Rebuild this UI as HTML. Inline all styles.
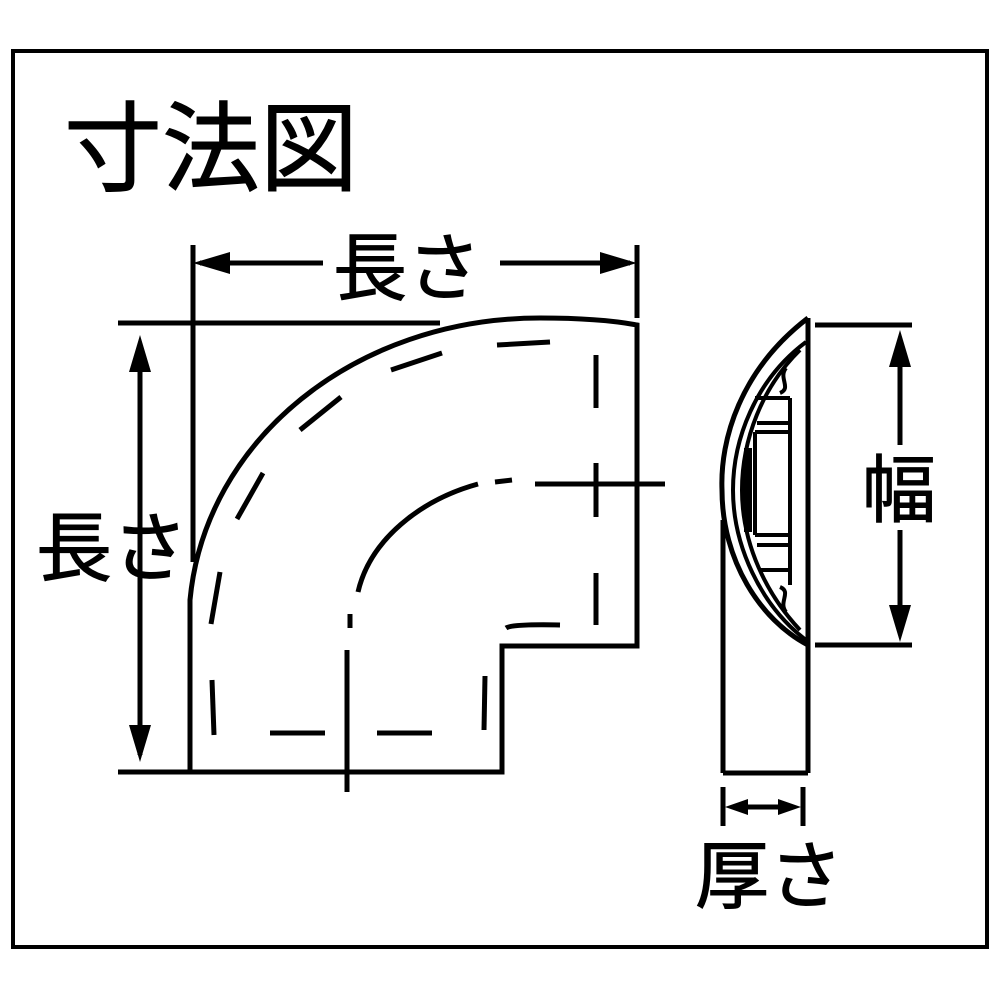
<!DOCTYPE html>
<html><head><meta charset="utf-8"><style>
html,body{margin:0;padding:0;background:#fff}
svg{display:block}
text{font-family:"Liberation Sans","Noto Sans CJK JP",sans-serif;fill:#000}
</style></head><body>
<svg width="1000" height="1000" viewBox="0 0 1000 1000" xmlns="http://www.w3.org/2000/svg">
<rect x="13" y="51" width="974" height="896" fill="none" stroke="#000" stroke-width="4"/>
<text x="64" y="183" font-size="98" stroke="#000" stroke-width="1">寸法図</text>

<g stroke="#000" stroke-width="5" fill="none">
<line x1="193" y1="245" x2="193" y2="562"/>
<line x1="637" y1="245" x2="637" y2="318"/>
<line x1="118" y1="323" x2="440" y2="323"/>
<line x1="118" y1="772" x2="190" y2="772"/>
<line x1="200" y1="263" x2="323" y2="263"/>
<line x1="500" y1="263" x2="630" y2="263"/>
<line x1="140" y1="345" x2="140" y2="755"/>
<path d="M190,600 C205,440 355,318 540,318 Q600,318 637,325 L637,646 L502,646 L502,772 L190,772 Z"/>
<path d="M212,680 L214,735" />
<line x1="270" y1="733" x2="325" y2="733"/>
<line x1="377" y1="733" x2="432" y2="733"/>
<line x1="485" y1="676" x2="484" y2="730"/>
<path d="M506,628 Q512,624 560,625"/>
<line x1="596" y1="355" x2="596" y2="408"/>
<line x1="596" y1="573" x2="596" y2="625"/>
<line x1="596" y1="463" x2="596" y2="517"/>
<line x1="497" y1="345" x2="550" y2="342"/>
<line x1="391" y1="370" x2="442" y2="353"/>
<line x1="300" y1="430" x2="341" y2="397"/>
<line x1="237" y1="519" x2="263" y2="473"/>
<line x1="211" y1="624" x2="220" y2="572"/>
<line x1="535" y1="484" x2="665" y2="484"/>
<path d="M358,592 C370,540 420,500 478,484"/>
<line x1="495" y1="482" x2="512" y2="480"/>
<line x1="350" y1="614" x2="350" y2="628"/>
<line x1="347" y1="650" x2="347" y2="792"/>
<!-- side view -->
<line x1="808" y1="318" x2="808" y2="773"/>
<line x1="723" y1="520" x2="723" y2="773"/>
<line x1="723" y1="773" x2="808" y2="773"/>
<path d="M808,318 C740,370 720,440 722,490 C722,560 760,620 808,645"/>
<path d="M806,342 C755,380 733,440 733,490 C733,545 760,605 806,640" stroke-width="4"/>
<path d="M800,350 C762,387 742,440 742,490 C742,545 767,595 800,630" stroke-width="4"/>
<path d="M786,368 C778,378 792,388 780,393 M786,612 C778,602 792,592 780,587" stroke-width="4"/>
<path d="M790,398 L755,398 M790,398 L790,585 M757,423 L790,423 M755,432 L790,432 M755,432 L755,535 M755,535 L790,535 M757,545 L790,545 M760,570 L790,570" stroke-width="4"/>
<path d="M748,448 L748,532" stroke-width="8"/>
<line x1="815" y1="325" x2="912" y2="325"/>
<line x1="815" y1="645" x2="912" y2="645"/>
<line x1="900" y1="340" x2="900" y2="445"/>
<line x1="900" y1="530" x2="900" y2="630"/>
<line x1="723" y1="787" x2="723" y2="826"/>
<line x1="803" y1="787" x2="803" y2="826"/>
<line x1="735" y1="807" x2="790" y2="807"/>
</g>
<g fill="#000">
<polygon points="193,263 230,252 230,274"/>
<polygon points="637,263 600,252 600,274"/>
<polygon points="140,335 129,372 151,372"/>
<polygon points="140,762 129,725 151,725"/>
<polygon points="900,330 889,367 911,367"/>
<polygon points="900,642 889,605 911,605"/>
<polygon points="725,807 748,799 748,815"/>
<polygon points="801,807 778,799 778,815"/>
</g>
<g stroke="#000" stroke-width="1">
<text x="333" y="294" font-size="74">長さ</text>
<text x="36" y="575" font-size="76">長さ</text>
<text x="862" y="516" font-size="74">幅</text>
<text x="695" y="902" font-size="74">厚さ</text>
</g>
</svg>
</body></html>
